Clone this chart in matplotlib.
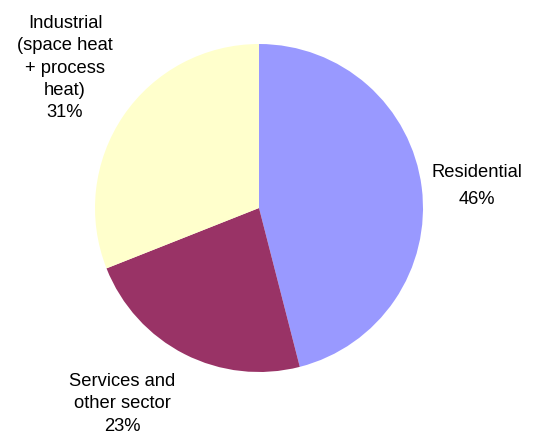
import matplotlib.pyplot as plt

# data
sectors = ['Residential', 'Services and\nother sector', 'Industrial\n(space heat\n+ process\nheat)']
shares = [46, 23, 31]
colors = ['#9999FF', '#993366', '#FFFFCC']

plt.rcParams['font.family'] = ['Liberation Sans', 'DejaVu Sans']

fig = plt.figure(figsize=(5.33, 4.38), dpi=100)
# pie centre ~ (259, 208) px, radius ~164 px
ax = fig.add_axes([(259 - 164) / 533, (438 - 208 - 164) / 438, 328 / 533, 328 / 438])
ax.pie(shares, colors=colors, startangle=90, counterclock=False,
       radius=1, wedgeprops=dict(linewidth=0))
ax.set_xlim(-1, 1)
ax.set_ylim(-1, 1)
ax.set_aspect('equal')
ax.axis('off')

# label positions (pixels in the reference, converted to pie units)
label_px = [(477, 186), (122, 404), (65, 68)]
spacing = [1.7, 1.4, 1.4]
for name, val, (px, py), ls in zip(sectors, shares, label_px, spacing):
    x = (px - 259) / 164
    y = (208 - py) / 164
    ax.text(x, y, f'{name}\n{val}%', ha='center', va='center',
            fontsize=13.2, linespacing=ls, clip_on=False)

fig.savefig('out.png', dpi=100)
